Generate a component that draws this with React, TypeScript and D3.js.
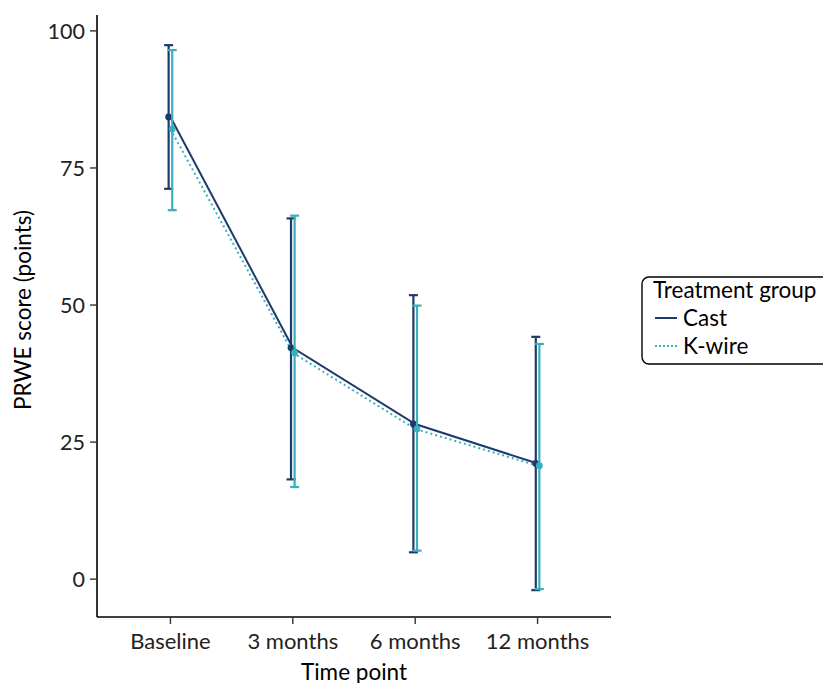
import React from "react";
import * as d3 from "d3";

const timePoints = ["Baseline", "3 months", "6 months", "12 months"];
const castMean = [84.3, 42.2, 28.3, 21.1];
const castLower = [71.2, 18.2, 4.9, -2.0];
const castUpper = [97.4, 65.8, 51.8, 44.2];
const kwireMean = [82.1, 41.3, 27.4, 20.7];
const kwireLower = [67.3, 16.8, 5.2, -1.8];
const kwireUpper = [96.5, 66.3, 49.9, 42.9];
const yTicks = [0, 25, 50, 75, 100];

const W = 823;
const H = 683;
const FONT = "Lato, 'Open Sans', sans-serif";
const NAVY = "#1e3a6a";
const TEAL = "#3ab0ba";

export default function App() {
  const x = d3.scaleLinear().domain([0.4, 4.6]).range([97, 611]);
  const y = d3.scaleLinear().domain([-6.9, 102.9]).range([617, 15]);
  const dodge = 1.8;

  const series = [
    { name: "Cast", mean: castMean, lo: castLower, hi: castUpper, color: NAVY, off: -dodge, dash: undefined as string | undefined },
    { name: "K-wire", mean: kwireMean, lo: kwireLower, hi: kwireUpper, color: TEAL, off: dodge, dash: "2,3" },
  ];

  const line = d3
    .line<number>()
    .x((_, i) => x(i + 1))
    .y((d) => y(d));

  return (
    <svg width={W} height={H} style={{ display: "block", position: "absolute", left: 0, top: 0 }} fontFamily={FONT}>
      <rect width={W} height={H} fill="white" />
      {/* axes */}
      <line x1={97} x2={97} y1={15} y2={617} stroke="#000" strokeWidth={1.6} />
      <line x1={97} x2={611} y1={617} y2={617} stroke="#000" strokeWidth={1.6} />
      {yTicks.map((t) => (
        <g key={t}>
          <line x1={90} x2={97} y1={y(t)} y2={y(t)} stroke="#333" strokeWidth={1.4} />
          <text x={85} y={y(t)} dy="0.36em" textAnchor="end" fontSize={21.5} fill="#222">
            {t}
          </text>
        </g>
      ))}
      {timePoints.map((tp, i) => (
        <g key={tp}>
          <line x1={x(i + 1)} x2={x(i + 1)} y1={617} y2={624} stroke="#333" strokeWidth={1.4} />
          <text x={x(i + 1)} y={649} textAnchor="middle" fontSize={22} fill="#222">
            {tp}
          </text>
        </g>
      ))}
      <text x={354} y={680} textAnchor="middle" fontSize={22.5} fill="#000">
        Time point
      </text>
      <text
        transform={`translate(31,${310}) rotate(-90)`}
        textAnchor="middle"
        fontSize={22.5}
        fill="#000"
      >
        PRWE score (points)
      </text>

      {/* lines */}
      {series.map((s) => (
        <path
          key={s.name + "line"}
          d={line(s.mean) || ""}
          fill="none"
          stroke={s.color}
          strokeWidth={2}
          strokeDasharray={s.dash}
        />
      ))}
      {/* error bars */}
      {series.map((s) =>
        s.mean.map((m, i) => {
          const cx = x(i + 1) + s.off;
          return (
            <g key={s.name + i}>
              <line x1={cx} x2={cx} y1={y(s.lo[i])} y2={y(s.hi[i])} stroke={s.color} strokeWidth={2.2} />
              <line x1={cx - 4.5} x2={cx + 4.5} y1={y(s.lo[i])} y2={y(s.lo[i])} stroke={s.color} strokeWidth={2.2} />
              <line x1={cx - 4.5} x2={cx + 4.5} y1={y(s.hi[i])} y2={y(s.hi[i])} stroke={s.color} strokeWidth={2.2} />
              <circle cx={cx} cy={y(m)} r={3.4} fill={s.color} />
            </g>
          );
        })
      )}

      {/* legend */}
      <rect x={642} y={277} width={200} height={87} rx={7} fill="white" stroke="#000" strokeWidth={1.4} />
      <text x={653} y={298} fontSize={22.5} fill="#000">
        Treatment group
      </text>
      <line x1={655} x2={677} y1={318} y2={318} stroke={NAVY} strokeWidth={2} />
      <text x={683} y={326} fontSize={22.5} fill="#000">
        Cast
      </text>
      <line x1={655} x2={677} y1={346} y2={346} stroke={TEAL} strokeWidth={2} strokeDasharray="2,2" />
      <text x={683} y={354} fontSize={22.5} fill="#000">
        K-wire
      </text>
    </svg>
  );
}
